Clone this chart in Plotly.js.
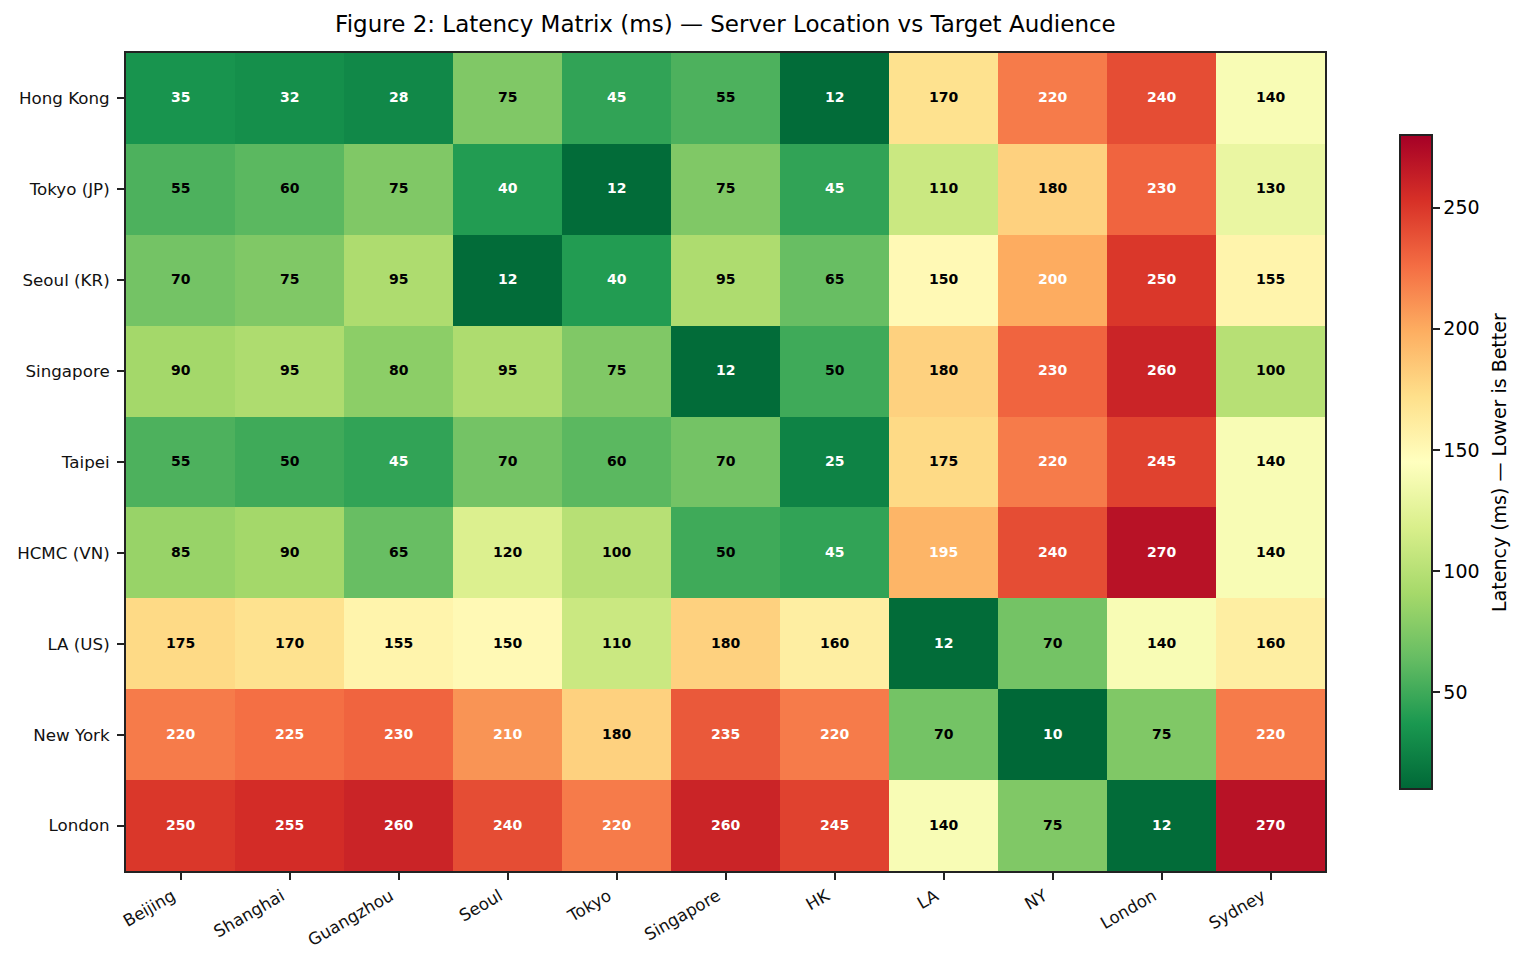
<!DOCTYPE html>
<html><head><meta charset="utf-8">
<script src="https://cdn.plot.ly/plotly-3.0.1.min.js"></script>
<style>html,body{margin:0;padding:0;background:#fff}#c{width:1525px;height:964px}</style>
</head><body><div id="c"></div>
<script>
const audiences = ["Beijing","Shanghai","Guangzhou","Seoul","Tokyo","Singapore","HK","LA","NY","London","Sydney"];
const servers = ["Hong Kong","Tokyo (JP)","Seoul (KR)","Singapore","Taipei","HCMC (VN)","LA (US)","New York","London"];
const hongKong  = [35,32,28,75,45,55,12,170,220,240,140];
const tokyoJP   = [55,60,75,40,12,75,45,110,180,230,130];
const seoulKR   = [70,75,95,12,40,95,65,150,200,250,155];
const singapore = [90,95,80,95,75,12,50,180,230,260,100];
const taipei    = [55,50,45,70,60,70,25,175,220,245,140];
const hcmcVN    = [85,90,65,120,100,50,45,195,240,270,140];
const laUS      = [175,170,155,150,110,180,160,12,70,140,160];
const newYork   = [220,225,230,210,180,235,220,70,10,75,220];
const london    = [250,255,260,240,220,260,245,140,75,12,270];
const latency = [hongKong,tokyoJP,seoulKR,singapore,taipei,hcmcVN,laUS,newYork,london];
const rdYlGnR = ["#006837","#1a9850","#66bd63","#a6d96a","#d9ef8b","#ffffbf","#fee08b","#fdae61","#f46d43","#d73027","#a50026"];
const sans = "DejaVu Sans, sans-serif";
const ink = "#222222";
const annotations = [];
latency.forEach((row,i)=>row.forEach((v,j)=>annotations.push({
  x:audiences[j], y:servers[i], text:"<b>"+v+"</b>", showarrow:false, yshift:1,
  font:{family:sans,size:14,color:(v<50||v>=190)?"#ffffff":"#000000"}
})));
annotations.push({
  xref:"paper", yref:"paper", x:1.1451, y:0.5, xanchor:"center", yanchor:"middle",
  text:"Latency (ms) — Lower is Better", textangle:-90, showarrow:false,
  font:{family:sans,size:19,color:"#000"}
});
const trace = {
  type:"heatmap", x:audiences, y:servers, z:latency, zmin:10, zmax:280,
  colorscale:rdYlGnR.map((c,i)=>[i/10,c]), xgap:0, ygap:0, hoverongaps:false,
  colorbar:{
    x:1.0625, xanchor:"left", xpad:0, ypad:0, thickness:32,
    lenmode:"pixels", len:654, y:0.5, yanchor:"middle",
    outlinewidth:2, outlinecolor:ink, tickvals:[50,100,150,200,250],
    ticks:"outside", ticklen:7, tickwidth:2, tickcolor:ink,
    tickfont:{family:sans,size:19,color:"#000"}
  }
};
const axisBase = {ticks:"outside",ticklen:7,tickwidth:2,tickcolor:ink,
  showline:true,mirror:true,linecolor:ink,linewidth:2,showgrid:false,zeroline:false,
  tickfont:{family:sans,size:16.7,color:"#111"}};
const layout = {
  width:1525, height:964, paper_bgcolor:"#fff", plot_bgcolor:"#fff",
  margin:{l:126,r:200,t:53,b:93,pad:0},
  title:{text:"Figure 2: Latency Matrix (ms) — Server Location vs Target Audience",
    font:{family:sans,size:23,color:"#000"},x:0.4757,xanchor:"center",y:0.975,yanchor:"middle"},
  xaxis:Object.assign({},axisBase,{type:"category",tickangle:-30,ticklabelshift:-8}),
  yaxis:Object.assign({},axisBase,{type:"category",autorange:"reversed",ticklabelstandoff:4}),
  annotations
};
Plotly.newPlot("c",[trace],layout,{displayModeBar:false,responsive:false});
</script></body></html>
